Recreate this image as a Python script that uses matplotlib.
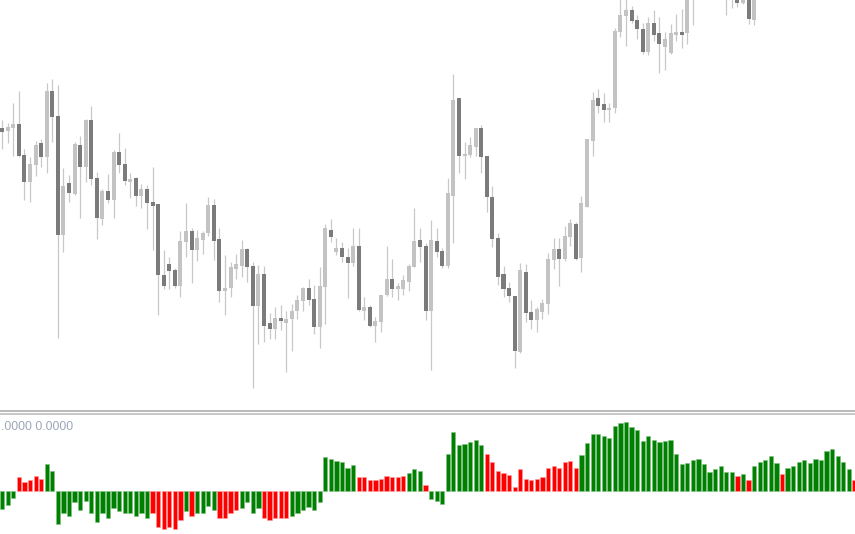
import numpy as np
import matplotlib
matplotlib.use("Agg")
import matplotlib.pyplot as plt
from matplotlib.lines import Line2D

nan = np.nan

# price candles (chart points, 0 = bottom of the price window)
opens = [281.7, 279.0, 282.3, 286.0, 255.0, 228.3, 245.0, 266.7, 252.7, 319.3,
         294.3, 175.0, 226.7, 216.0, 265.0, 243.3, 290.0, 231.7, 190.7, 219.3,
         210.0, 257.7, 246.0, 228.3, 232.3, 214.0, 220.7, 207.7, 205.7, 135.0,
         145.7, 140.0, 124.3, 168.3, 179.0, 160.0, 170.0, 176.7, 205.0, 170.7,
         119.3, 121.7, 141.0, 144.3, 160.7, 144.3, 104.0, 135.7, 86.7, 80.7,
         92.3, 87.3, 90.7, 99.3, 109.3, 121.7, 111.0, 83.3, 123.3, 180.0,
         158.3, 162.3, 153.3, 147.3, 164.0, 99.3, 103.3, 84.3, 88.3, 115.0,
         130.7, 120.7, 120.7, 128.3, 143.3, 170.0, 164.0, 99.3, 169.0, 159.3,
         144.3, 214.0, 311.7, 254.0, 255.0, 262.7, 282.3, 254.0, 212.7, 171.7,
         135.7, 121.7, 114.0, 57.7, 138.3, 98.3, 90.0, 98.3, 106.0, 150.0,
         160.7, 151.0, 173.3, 185.7, 151.7, 203.3, 269.3, 311.7, 305.7, 300.0,
         301.7, 378.3, 394.0, 400.0, 390.0, 380.7, 357.7, 387.3, 376.7, 363.3,
         356.7, 375.3, 378.0, 376.7, 415.0, nan, nan, nan, nan, nan,
         418.0, 415.0, 420.0, 407.3, 415.0, 390.0]
closes = [278.3, 283.3, 286.0, 254.0, 228.3, 246.0, 265.0, 252.7, 319.3, 293.3,
          175.0, 224.3, 216.7, 265.7, 243.3, 290.0, 230.7, 191.7, 219.3, 210.0,
          258.3, 245.0, 229.3, 231.0, 214.0, 220.7, 206.7, 204.3, 135.0, 124.3,
          139.0, 124.3, 169.0, 179.0, 160.0, 171.7, 176.7, 205.0, 169.3, 119.3,
          121.7, 142.7, 146.0, 160.7, 143.3, 104.0, 135.7, 84.3, 80.7, 91.7,
          89.0, 91.0, 99.3, 110.0, 121.7, 110.0, 83.3, 124.0, 181.7, 172.7,
          161.7, 152.7, 147.3, 164.0, 100.0, 103.3, 84.3, 89.3, 115.0, 130.7,
          120.7, 124.0, 130.0, 144.0, 169.0, 163.3, 99.0, 170.0, 157.7, 144.3,
          216.7, 310.0, 254.0, 256.0, 265.0, 281.7, 252.7, 212.7, 170.7, 133.3,
          120.7, 114.0, 59.0, 140.0, 97.3, 90.0, 100.7, 107.3, 151.0, 160.7,
          151.0, 174.3, 186.7, 151.0, 206.7, 271.0, 310.0, 304.0, 300.0, 302.3,
          379.3, 395.0, 400.0, 389.3, 380.7, 357.7, 387.3, 375.0, 365.7, 370.7,
          376.7, 378.0, 375.3, 418.0, 425.0, nan, nan, nan, nan, nan,
          425.0, 422.0, 407.3, 415.0, 390.7, 415.0]
highs = [290.0, 287.3, 307.3, 319.0, 260.7, 253.3, 269.0, 270.7, 327.3, 330.7,
         325.0, 241.7, 235.0, 268.3, 274.0, 291.0, 304.0, 238.3, 220.7, 236.0,
         260.0, 276.7, 261.7, 236.7, 233.3, 226.0, 225.0, 242.7, 205.7, 160.0,
         152.7, 141.7, 179.0, 206.7, 181.7, 180.0, 179.3, 212.7, 210.7, 181.7,
         155.0, 148.3, 156.0, 170.0, 161.7, 148.3, 145.0, 144.0, 97.3, 103.3,
         105.0, 99.3, 106.0, 115.0, 123.3, 130.7, 125.0, 142.7, 185.7, 191.0,
         171.7, 168.3, 161.7, 181.7, 181.7, 113.3, 105.0, 93.3, 115.0, 164.0,
         150.7, 126.7, 135.0, 146.0, 202.3, 181.7, 167.0, 190.0, 181.7, 161.7,
         231.7, 336.0, 312.3, 268.3, 272.7, 281.7, 284.7, 254.0, 224.0, 177.3,
         144.0, 128.3, 114.0, 147.3, 146.0, 110.0, 103.3, 110.7, 156.7, 171.7,
         171.7, 184.3, 191.0, 187.7, 214.0, 271.0, 317.7, 320.7, 316.7, 307.3,
         381.7, 413.0, 415.0, 404.0, 395.0, 386.7, 393.3, 400.0, 393.3, 378.3,
         386.0, 396.0, 401.0, 425.0, 430.0, nan, nan, nan, nan, nan,
         430.0, 428.0, 425.0, 420.0, 420.0, 420.0]
lows = [260.7, 267.3, 254.3, 253.3, 210.0, 208.3, 234.0, 243.3, 236.7, 268.3,
        72.3, 158.3, 208.3, 215.0, 191.7, 228.3, 225.0, 170.7, 185.0, 206.7,
        191.7, 237.3, 225.0, 211.7, 204.3, 201.7, 180.7, 160.0, 95.0, 120.7,
        120.7, 122.3, 112.7, 153.3, 127.3, 149.0, 155.7, 174.3, 150.0, 108.3,
        95.0, 112.7, 130.7, 133.3, 128.3, 21.7, 66.0, 68.3, 70.7, 70.7,
        80.0, 38.3, 59.3, 90.7, 99.3, 105.0, 75.7, 61.7, 86.0, 168.3,
        155.0, 148.3, 111.7, 144.0, 99.3, 90.0, 83.3, 67.7, 78.3, 114.0,
        113.3, 110.0, 115.0, 119.0, 142.7, 148.3, 90.0, 40.0, 153.3, 141.7,
        141.7, 167.3, 237.3, 231.0, 253.3, 254.0, 236.7, 198.3, 163.3, 125.0,
        112.7, 108.3, 41.7, 56.7, 88.3, 80.7, 78.3, 91.0, 96.0, 140.7,
        124.3, 149.0, 164.3, 150.0, 138.3, 202.7, 254.0, 296.7, 287.7, 288.3,
        297.3, 372.7, 364.3, 386.7, 370.7, 356.0, 355.0, 369.3, 337.3, 340.0,
        356.0, 369.3, 361.7, 366.0, 385.0, nan, nan, nan, nan, nan,
        395.0, 401.7, 403.3, 406.0, 386.0, 385.0]

# oscillator histogram
osc = [-18, -14, -6.7, 13.7, 8.7, 11, 15, 12.3, 26.7, 20.3,
       -33.3, -22.3, -24.7, -10.7, -19, -10, -21.7, -30.7, -22.3, -26.7,
       -16.7, -20, -22.3, -22.3, -24.7, -21.7, -26.7, -22.3, -35.7, -38.3,
       -35.7, -38.3, -29, -20, -24.7, -22.3, -21.7, -15, -19, -26.7,
       -26.7, -21.7, -19, -17.3, -10.7, -22.3, -16.7, -26.7, -29, -26.7,
       -26.7, -26.7, -24.7, -22.3, -19, -15.7, -19, -11.3, 34.3, 31.7,
       30.3, 29, 23.3, 26.3, 13.7, 13.7, 11, 11, 12.3, 15,
       13.7, 13.7, 15, 17.7, 21.7, 20.3, 6.3, -8, -10, -12.7,
       37, 58.7, 46, 47.3, 48.7, 51, 45.7, 37.3, 29, 20.3,
       17.7, 16.3, 3.7, 21.7, 12.3, 11, 12.3, 13.7, 23, 25,
       23, 29, 30.3, 23, 36, 48.3, 56.7, 56.7, 55.3, 52.7,
       65.3, 67.7, 69.3, 64, 61.3, 50, 55.3, 51.3, 48.7, 50,
       51.3, 37.3, 26.7, 28, 30.7, 32, 26.7, 19.3, 22, 25.3,
       19.3, 19.3, 15.3, 16.7, 11.3, 25.3, 29.3, 30.7, 34.7, 28,
       16.7, 23.3, 25.3, 29.3, 30.7, 28, 32, 30.7, 40, 42,
       34.7, 29.3, 22, 11.3]
osc_state = ("GGGRRRRRGG" "GGGGGGGGGG" "GGGGGGGRRR" "RRRGRGGGGR"
             "RRRGGGGRRR" "RRGGGGGGGG" "GGGGRRRRRR" "RRRGGGRGGG"
             "GGGGGGGRRR" "RRRRRRRRRR" "RRRRGGGGGG" "GGGGGGGGGG"
             "GGGGGGGGGG" "GGRGRGGGGG" "RGGGGGGGGG" "GGGR")

# indicator header as it shows in the window
label = '.0000 0.0000'

o = np.array(opens); c = np.array(closes)
h = np.array(highs); l = np.array(lows)
x = np.arange(len(o))
ok = ~np.isnan(o)
bull = ok & (c >= o)
bear = ok & (c < o)
body_lo = np.minimum(o, c)
body_h = np.maximum(np.abs(c - o), 1.2)

fig = plt.figure(figsize=(8.55, 5.34), dpi=100)
fig.patch.set_facecolor('white')

W, H = 855.0, 534.0
xlim = (-0.395, -0.395 + W / 5.57)

ax = fig.add_axes([0, (H - 410) / H, 1, 410 / H])
ax.set_xlim(*xlim)
ax.set_ylim(0, 410)
ax.set_axis_off()
ax.vlines(x[ok], l[ok], h[ok], color='#c8c8c8', lw=0.9, zorder=1)
ax.bar(x[bull], body_h[bull], bottom=body_lo[bull], width=0.72,
       color='#c3c3c3', linewidth=0, zorder=2)
ax.bar(x[bear], body_h[bear], bottom=body_lo[bear], width=0.72,
       color='#7b7b7b', linewidth=0, zorder=2)

ax2 = fig.add_axes([0, 0, 1, 119 / H])
ax2.set_xlim(*xlim)
ax2.set_ylim(-43, 76)
ax2.set_axis_off()
cols = ['#008000' if s == 'G' else '#ff0000' for s in osc_state]
edges = ['#7fbf7f' if s == 'G' else '#ff9a9a' for s in osc_state]
ax2.bar(np.arange(len(osc)), osc, width=0.76, color=cols,
        edgecolor=edges, linewidth=0.4)

# double separator line between the windows
for yy, cc in [(410.5, '#b4b4b4'), (414.0, '#c4c4c4')]:
    fig.add_artist(Line2D([0, 1], [1 - yy / H, 1 - yy / H],
                          color=cc, lw=1.3, transform=fig.transFigure))

fig.text(1.0 / W, 1 - 426.5 / H, label, color='#9ea7b8',
         fontsize=8.9, family='Liberation Sans', va='center', ha='left')

fig.savefig('out.png', dpi=100)
